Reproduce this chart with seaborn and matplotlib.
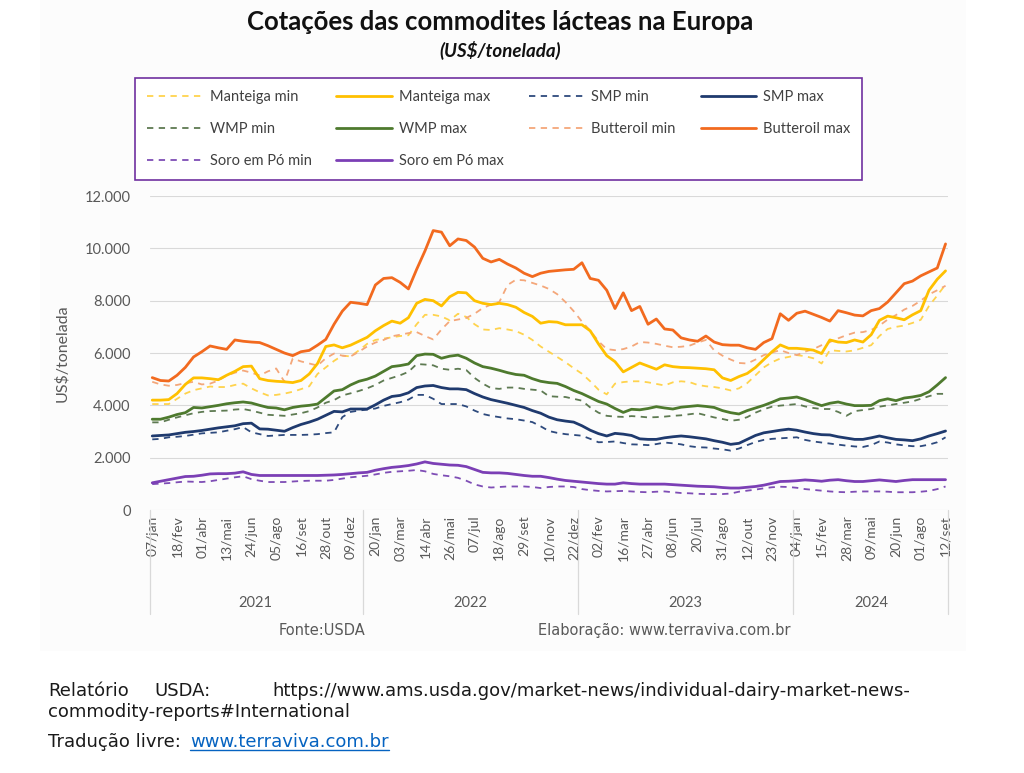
import matplotlib
matplotlib.use("Agg")
import matplotlib.pyplot as plt
import matplotlib.ticker as mticker
import matplotlib.transforms as mtransforms
from matplotlib.lines import Line2D
from matplotlib.patches import Rectangle
import numpy as np
import seaborn as sns

sns.set_style("white")
plt.rcParams['font.family'] = ['Lato', 'DejaVu Sans']

# cotacoes quinzenais, 07/jan/2021 a 12/set/2024 (US$/tonelada)
anos = ["2021", "2022", "2023", "2024"]
pontos_por_ano = [26, 26, 26, 19]
rotulos_x = ["07/jan", "18/fev", "01/abr", "13/mai", "24/jun", "05/ago", "16/set", "28/out", "09/dez",
             "20/jan", "03/mar", "14/abr", "26/mai", "07/jul", "18/ago", "29/set", "10/nov", "22/dez",
             "02/fev", "16/mar", "27/abr", "08/jun", "20/jul", "31/ago", "12/out", "23/nov",
             "04/jan", "15/fev", "28/mar", "09/mai", "20/jun", "01/ago", "12/set"]

manteiga_min = [4050, 4050, 4050, 4250, 4450, 4580, 4650, 4720, 4700, 4700,
                4780, 4830, 4650, 4500, 4380, 4400, 4450, 4520, 4620, 4730,
                5200, 5450, 5700, 5900, 5870, 6100, 6350, 6500, 6550, 6600,
                6650, 6680, 7100, 7460, 7460, 7400, 7250, 7500, 7380, 7100,
                6900, 6880, 6950, 6900, 6840, 6700, 6500, 6250, 6050, 5850,
                5650, 5420, 5210, 4920, 4600, 4420, 4830, 4890, 4920, 4920,
                4880, 4820, 4760, 4880, 4920, 4890, 4780, 4730, 4700, 4650,
                4570, 4650, 4850, 5150, 5450, 5650, 5790, 5850, 5920, 5880,
                5800, 5600, 6110, 6080, 6060, 6100, 6200, 6300, 6650, 6920,
                7000, 7050, 7150, 7270, 7800, 8200, 8620]
manteiga_max = [4200, 4200, 4220, 4450, 4800, 5050, 5050, 5020, 4980, 5150,
                5300, 5480, 5500, 5020, 4950, 4920, 4900, 4870, 4950, 5200,
                5600, 6250, 6310, 6200, 6300, 6450, 6600, 6850, 7050, 7220,
                7140, 7350, 7900, 8050, 8000, 7800, 8150, 8320, 8300, 8000,
                7900, 7850, 7900, 7850, 7750, 7550, 7400, 7140, 7200, 7180,
                7080, 7080, 7080, 6850, 6350, 5900, 5670, 5280, 5450, 5620,
                5500, 5380, 5550, 5480, 5450, 5440, 5420, 5400, 5360, 5050,
                4950, 5100, 5220, 5450, 5750, 6050, 6310, 6180, 6180, 6150,
                6110, 5980, 6500, 6420, 6400, 6500, 6420, 6700, 7250, 7410,
                7350, 7270, 7460, 7620, 8400, 8820, 9140]
smp_min = [2700, 2720, 2780, 2800, 2830, 2880, 2930, 2950, 2970, 3030,
           3090, 3170, 2970, 2900, 2830, 2850, 2870, 2870, 2870, 2880,
           2900, 2940, 2970, 3550, 3750, 3800, 3840, 3880, 3980, 4050,
           4120, 4220, 4400, 4400, 4250, 4050, 4050, 4050, 3960, 3800,
           3670, 3600, 3550, 3500, 3470, 3420, 3360, 3200, 3020, 2950,
           2900, 2870, 2840, 2720, 2590, 2600, 2620, 2560, 2510, 2500,
           2480, 2520, 2580, 2550, 2510, 2440, 2400, 2390, 2350, 2320,
           2270, 2350, 2480, 2600, 2680, 2720, 2740, 2760, 2780, 2680,
           2620, 2580, 2540, 2500, 2460, 2430, 2410, 2480, 2620, 2580,
           2510, 2470, 2440, 2440, 2500, 2590, 2780]
smp_max = [2830, 2850, 2870, 2920, 2970, 3000, 3040, 3090, 3140, 3180,
           3220, 3300, 3320, 3100, 3090, 3050, 3010, 3150, 3270, 3360,
           3470, 3620, 3770, 3750, 3860, 3860, 3860, 4020, 4200, 4340,
           4380, 4480, 4680, 4740, 4760, 4680, 4630, 4630, 4600, 4450,
           4320, 4220, 4150, 4080, 4000, 3920, 3800, 3700, 3550, 3450,
           3400, 3360, 3220, 3050, 2920, 2830, 2930, 2900, 2850, 2720,
           2700, 2700, 2760, 2800, 2830, 2800, 2760, 2720, 2650, 2590,
           2510, 2550, 2700, 2850, 2950, 3000, 3050, 3090, 3050, 2980,
           2920, 2880, 2870, 2800, 2750, 2700, 2700, 2760, 2830, 2760,
           2700, 2680, 2650, 2720, 2830, 2920, 3020]
wmp_min = [3350, 3350, 3450, 3540, 3620, 3700, 3750, 3780, 3790, 3800,
           3840, 3860, 3800, 3720, 3640, 3620, 3600, 3650, 3700, 3780,
           3920, 4100, 4200, 4380, 4460, 4550, 4650, 4780, 4950, 5050,
           5150, 5280, 5580, 5560, 5530, 5400, 5360, 5400, 5350, 5050,
           4830, 4660, 4630, 4680, 4680, 4630, 4600, 4570, 4350, 4330,
           4320, 4250, 4180, 3920, 3720, 3600, 3570, 3560, 3590, 3570,
           3540, 3550, 3570, 3600, 3620, 3660, 3700, 3620, 3540, 3480,
           3410, 3450, 3550, 3720, 3850, 3950, 3990, 4020, 4050, 3960,
           3900, 3860, 3860, 3750, 3600, 3780, 3820, 3860, 3950, 4000,
           4050, 4100, 4150, 4250, 4350, 4440, 4440]
wmp_max = [3470, 3470, 3550, 3650, 3720, 3920, 3900, 3950, 4000, 4060,
           4100, 4130, 4090, 4000, 3920, 3900, 3830, 3920, 3970, 4000,
           4050, 4300, 4550, 4600, 4780, 4920, 5000, 5120, 5300, 5480,
           5520, 5580, 5900, 5960, 5950, 5800, 5880, 5920, 5800, 5620,
           5480, 5420, 5340, 5250, 5180, 5150, 5020, 4920, 4870, 4840,
           4720, 4570, 4450, 4300, 4150, 4050, 3880, 3730, 3850, 3830,
           3880, 3950, 3900, 3860, 3930, 3960, 3990, 3960, 3920, 3800,
           3720, 3670, 3800, 3900, 4000, 4120, 4250, 4280, 4320, 4220,
           4100, 3990, 4080, 4130, 4050, 3990, 3990, 4000, 4180, 4250,
           4180, 4280, 4320, 4380, 4520, 4780, 5060]
butteroil_min = [4900, 4800, 4750, 4780, 4850, 4900, 4800, 4830, 4950, 5140,
                 5250, 5330, 5250, 5140, 5300, 5410, 4900, 5790, 5680, 5600,
                 5520, 5800, 5980, 5900, 5870, 6050, 6250, 6400, 6500, 6640,
                 6700, 6760, 6800, 6650, 6520, 6900, 7220, 7280, 7340, 7500,
                 7720, 7850, 7950, 8600, 8800, 8780, 8680, 8580, 8450, 8250,
                 7950, 7600, 7200, 6850, 6450, 6150, 6110, 6150, 6250, 6420,
                 6400, 6350, 6280, 6220, 6240, 6280, 6400, 6500, 6100, 5900,
                 5750, 5620, 5600, 5750, 5920, 6020, 6110, 6000, 5920, 6050,
                 6150, 6300, 6420, 6560, 6680, 6780, 6800, 6880, 7050, 7280,
                 7450, 7660, 7800, 8000, 8240, 8400, 8570]
butteroil_max = [5060, 4950, 4930, 5150, 5450, 5850, 6050, 6270, 6200, 6140,
                 6500, 6450, 6420, 6400, 6280, 6140, 6000, 5900, 6050, 6100,
                 6300, 6520, 7100, 7600, 7940, 7900, 7850, 8600, 8850, 8880,
                 8700, 8450, 9200, 9900, 10680, 10620, 10100, 10360, 10300, 10050,
                 9620, 9480, 9580, 9400, 9250, 9050, 8920, 9050, 9120, 9150,
                 9180, 9200, 9450, 8850, 8780, 8400, 7700, 8300, 7620, 7780,
                 7100, 7300, 6920, 6880, 6580, 6500, 6450, 6650, 6420, 6320,
                 6300, 6300, 6200, 6140, 6400, 6550, 7500, 7250, 7520, 7600,
                 7480, 7360, 7220, 7620, 7540, 7450, 7420, 7620, 7700, 7950,
                 8300, 8650, 8750, 8950, 9100, 9250, 10170]
soro_min = [990, 1010, 1030, 1060, 1090, 1080, 1070, 1100, 1150, 1200,
            1250, 1290, 1180, 1120, 1070, 1070, 1070, 1090, 1110, 1120,
            1120, 1120, 1150, 1200, 1250, 1280, 1310, 1360, 1420, 1460,
            1480, 1500, 1530, 1480, 1380, 1330, 1290, 1230, 1120, 980,
            900, 860, 880, 900, 900, 900, 880, 840, 880, 900,
            900, 880, 800, 760, 730, 710, 720, 730, 710, 690,
            680, 700, 710, 680, 650, 640, 620, 610, 610, 610,
            630, 700, 740, 780, 830, 870, 890, 880, 850, 800,
            770, 740, 710, 690, 680, 700, 710, 710, 710, 700,
            680, 680, 680, 700, 730, 800, 900]
soro_max = [1040, 1100, 1160, 1220, 1280, 1290, 1330, 1380, 1390, 1390,
            1410, 1460, 1360, 1320, 1320, 1320, 1320, 1320, 1320, 1320,
            1320, 1330, 1340, 1360, 1390, 1420, 1440, 1520, 1580, 1630,
            1660, 1700, 1760, 1840, 1780, 1750, 1720, 1710, 1660, 1550,
            1440, 1420, 1420, 1400, 1360, 1320, 1290, 1290, 1240, 1180,
            1130, 1100, 1070, 1040, 1010, 990, 990, 1040, 1010, 990,
            990, 990, 990, 970, 950, 930, 910, 900, 890, 860,
            840, 840, 870, 900, 950, 1020, 1090, 1100, 1120, 1150,
            1130, 1100, 1140, 1160, 1120, 1090, 1090, 1120, 1150, 1120,
            1090, 1130, 1160, 1160, 1160, 1160, 1160]

tracejado = (0, (3.5, 3))
# nome, valores, cor, estilo, espessura
series = [
    ("Manteiga min", manteiga_min, "#FFD34D", tracejado, 1.3),
    ("SMP min", smp_min, "#2E4A7D", tracejado, 1.3),
    ("WMP min", wmp_min, "#5E7A52", tracejado, 1.3),
    ("Butteroil min", butteroil_min, "#F4A77A", tracejado, 1.3),
    ("Soro em Pó min", soro_min, "#7E4DB5", tracejado, 1.3),
    ("Manteiga max", manteiga_max, "#FFC000", "-", 2.0),
    ("SMP max", smp_max, "#1F3A6E", "-", 2.0),
    ("WMP max", wmp_max, "#4E7A2E", "-", 2.0),
    ("Butteroil max", butteroil_max, "#F26A1F", "-", 2.0),
    ("Soro em Pó max", soro_max, "#7B3FB5", "-", 2.0),
]

fig = plt.figure(figsize=(10.24, 7.73), dpi=100)
# fundo levemente acinzentado da area do grafico (como no print do Excel)
fig.add_artist(Rectangle((0.039, 0.158), 0.904, 0.842, transform=fig.transFigure,
                         facecolor="#FCFCFC", edgecolor="none", zorder=-10))
ax = fig.add_axes([0.1465, 0.3402, 0.7793, 0.4062])
ax.set_facecolor("none")

x = np.arange(len(manteiga_min))
for nome, vals, cor, ls, lw in series:
    sns.lineplot(x=x, y=vals, ax=ax, color=cor, linestyle=ls, linewidth=lw, label=nome)

handles, labels = ax.get_legend_handles_labels()
ax.get_legend().remove()
por_nome = dict(zip(labels, handles))
# legenda preenchida por coluna -> ordem para ficar igual por linha
ordem = ["Manteiga min", "WMP min", "Soro em Pó min",
         "Manteiga max", "WMP max", "Soro em Pó max",
         "SMP min", "Butteroil min",
         "SMP max", "Butteroil max"]
leg = fig.legend([por_nome[n] for n in ordem], ordem, loc="upper left",
                 bbox_to_anchor=(0.132, 0.899, 0.710, 0), mode="expand", ncol=4,
                 fontsize=10.5, labelcolor="#404040", frameon=True, fancybox=False,
                 edgecolor="#7030A0", framealpha=1, handlelength=3.8,
                 handletextpad=0.5, labelspacing=1.25, borderpad=0.8, borderaxespad=0)
leg.get_frame().set_linewidth(1.2)

# eixos
ax.set_xlim(-0.27, len(x) - 1 + 0.3)
ax.set_ylim(0, 12000)
ax.set_yticks(range(0, 12001, 2000))
ax.yaxis.set_major_formatter(mticker.FuncFormatter(lambda v, p: f"{int(v):,}".replace(",", ".")))
ax.set_xticks(x[::3])
ax.set_xticklabels(rotulos_x, rotation=90)
ax.tick_params(axis="x", length=0, pad=4, labelsize=10, colors="#595959")
ax.tick_params(axis="y", length=0, pad=14, labelsize=10.5, colors="#595959")
ax.set_xlabel("")
ax.set_ylabel("US$/tonelada", fontsize=11.5, color="#595959", labelpad=11)
ax.yaxis.grid(True, color="#D9D9D9", linewidth=0.8)
ax.xaxis.grid(False)
sns.despine(ax=ax, left=True, bottom=True)

# eixo de categorias em dois niveis (anos)
trans = mtransforms.blended_transform_factory(ax.transData, ax.transAxes)
inicio = np.concatenate([[0], np.cumsum(pontos_por_ano)])
lim = ax.get_xlim()
divisas = [lim[0]] + [b - 0.5 for b in inicio[1:-1]] + [lim[1]]
for d in divisas:
    ax.plot([d, d], [0, -0.33], transform=trans, clip_on=False, color="#D9D9D9", lw=0.9)
for ano, a, b in zip(anos, inicio[:-1], inicio[1:]):
    ax.text((a + b - 1) / 2, -0.296, ano, transform=trans, ha="center", va="center",
            fontsize=10.5, color="#595959")

# titulos
fig.text(0.488, 0.9715, "Cotações das commodites lácteas na Europa", ha="center", va="center",
         fontsize=18.5, fontweight="bold", color="#111111")
fig.text(0.488, 0.935, "(US$/tonelada)", ha="center", va="center",
         fontsize=13.5, fontweight="bold", fontstyle="italic", color="#111111")

# fontes
fig.text(0.314, 0.184, "Fonte:USDA", ha="center", va="center", fontsize=10.5,
         color="#595959", family="DejaVu Sans")
fig.text(0.525, 0.184, "Elaboração: www.terraviva.com.br", ha="left", va="center",
         fontsize=10.5, color="#595959", family="DejaVu Sans")

rodape = dict(fontsize=13, color="#1a1a1a", family="DejaVu Sans", va="center")
fig.text(0.047, 0.106, "Relatório", ha="left", **rodape)
fig.text(0.151, 0.106, "USDA:", ha="left", **rodape)
fig.text(0.889, 0.106, "https://www.ams.usda.gov/market-news/individual-dairy-market-news-",
         ha="right", **rodape)
fig.text(0.047, 0.079, "commodity-reports#International", ha="left", **rodape)
fig.text(0.047, 0.040, "Tradução livre:", ha="left", **rodape)
link = fig.text(0.1855, 0.040, "www.terraviva.com.br", ha="left", va="center",
                fontsize=13, color="#0563C1", family="DejaVu Sans")

# sublinhado do link
fig.canvas.draw()
bb = link.get_window_extent().transformed(fig.transFigure.inverted())
fig.add_artist(Line2D([bb.x0, bb.x1], [bb.y0 + 0.002, bb.y0 + 0.002],
                      transform=fig.transFigure, color="#0563C1", lw=1))

fig.savefig("out.png", dpi=100)
